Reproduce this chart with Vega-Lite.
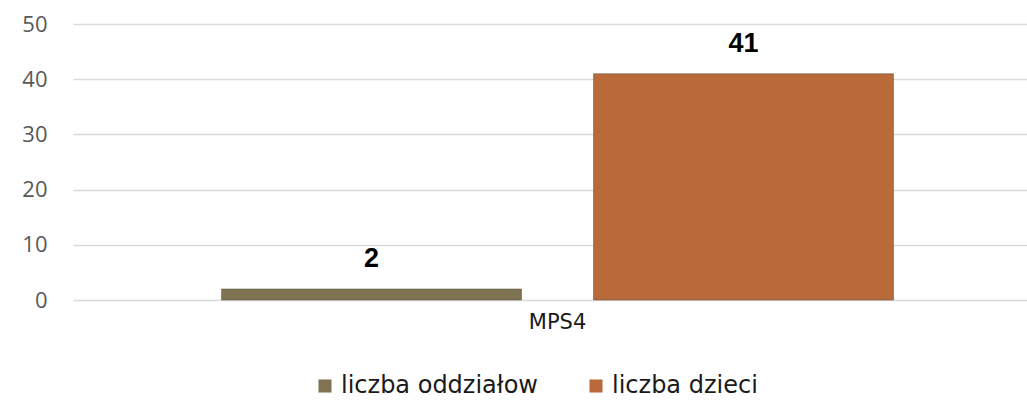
{
  "$schema": "https://vega.github.io/schema/vega-lite/v6.json",
  "autosize": {"type": "none"},
  "padding": {"left": 73, "top": 24, "right": 0, "bottom": 102},
  "width": 954,
  "height": 276,
  "background": "white",
  "data": {
    "values": [
      {"kategoria": "MPS4", "seria": "liczba oddziałow", "wartosc": 2},
      {"kategoria": "MPS4", "seria": "liczba dzieci", "wartosc": 41}
    ]
  },
  "encoding": {
    "x": {
      "field": "kategoria", "type": "nominal",
      "scale": {"range": [0, 969], "paddingInner": 0, "paddingOuter": 0},
      "axis": {"title": null, "labelAngle": 0, "domain": false, "ticks": false, "labelPadding": 11, "labelFont": "DejaVu Sans", "labelFontSize": 21, "labelColor": "#1a1a1a"}
    },
    "xOffset": {
      "field": "seria", "type": "nominal",
      "sort": ["liczba oddziałow", "liczba dzieci"],
      "scale": {"paddingInner": 0.1935, "paddingOuter": 0.3992}
    },
    "y": {
      "field": "wartosc", "type": "quantitative",
      "scale": {"domain": [0, 50]},
      "axis": {"title": null, "values": [0, 10, 20, 30, 40, 50], "domain": false, "ticks": false, "labelPadding": 26, "labelFont": "Open Sans", "labelFontSize": 22, "labelColor": "#595959", "gridColor": "#d9d9d9", "gridWidth": 1.5}
    }
  },
  "layer": [
    {
      "mark": {"type": "bar", "stroke": "#5a4a3a", "strokeWidth": 0.8, "strokeOpacity": 0.6},
      "encoding": {
        "color": {
          "field": "seria", "type": "nominal",
          "sort": ["liczba oddziałow", "liczba dzieci"],
          "scale": {"domain": ["liczba oddziałow", "liczba dzieci"], "range": ["#7f7354", "#b96a3a"]},
          "legend": {"title": null, "orient": "none", "direction": "horizontal", "legendX": 240, "legendY": 350, "symbolType": "square", "symbolSize": 170, "symbolStrokeWidth": 0, "labelFont": "DejaVu Sans", "labelFontSize": 24, "labelColor": "#1a1a1a", "columnPadding": 46, "labelOffset": 4, "labelLimit": 300}
        }
      }
    },
    {
      "mark": {"type": "text", "baseline": "bottom", "dy": -16, "font": "Liberation Sans", "fontWeight": "bold", "fontSize": 27, "color": "#000000"},
      "encoding": {"text": {"field": "wartosc", "type": "quantitative"}}
    }
  ],
  "config": {"view": {"stroke": null}}
}
